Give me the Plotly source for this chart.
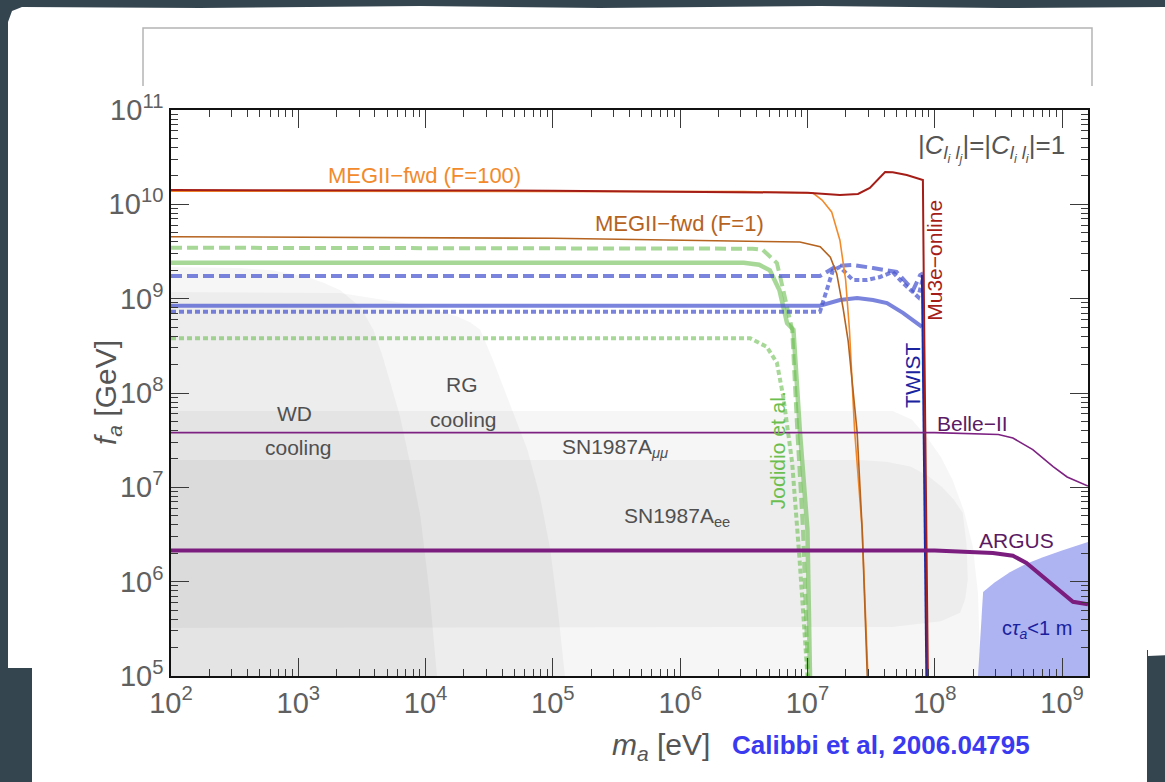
import plotly.graph_objects as go

# ---------------- data (log10 of m_a [eV] and log10 of f_a [GeV]) ----------------
x_range_log = [2, 9.204]
y_range_log = [5, 11]

x_tick_exponents = [2, 3, 4, 5, 6, 7, 8, 9]
y_tick_exponents = [5, 6, 7, 8, 9, 10, 11]
x_tick_labels = ["10<sup>%d</sup>" % e for e in x_tick_exponents]
y_tick_labels = ["10<sup>%d</sup>" % e for e in y_tick_exponents]

# shaded astrophysical regions
wd_logm = [2.0, 2.0, 2.54, 2.8, 3.07, 3.2, 3.33, 3.49, 3.59, 3.66, 3.73, 3.80, 3.88, 3.96, 4.03, 4.09, 2.0]
wd_logf = [5.0, 9.336, 9.325, 9.30, 9.23, 9.17, 9.09, 8.91, 8.67, 8.40, 8.08, 7.75, 7.25, 6.69, 5.9, 5.0, 5.0]
rg_logm = [2.0, 2.0, 3.33, 3.85, 4.05, 4.25, 4.35, 4.43, 4.53, 4.66, 4.80, 4.90, 4.98, 5.04, 5.095, 2.0]
rg_logf = [5.0, 9.07, 9.06, 8.95, 8.89, 8.81, 8.75, 8.67, 8.35, 7.90, 7.40, 6.90, 6.34, 5.70, 5.0, 5.0]
snmm_logm = [2.0, 2.0, 7.67, 7.82, 7.94, 8.05, 8.14, 8.23, 8.30, 8.34, 8.36, 2.0]
snmm_logf = [5.0, 7.81, 7.81, 7.72, 7.53, 7.32, 7.08, 6.75, 6.37, 5.88, 5.0, 5.0]
snee_logm = [2.0, 2.0, 7.41, 7.62, 7.81, 7.95, 8.06, 8.15, 8.22, 8.25, 8.26, 8.24, 8.20, 8.05, 7.67, 2.0]
snee_logf = [5.51, 7.29, 7.29, 7.27, 7.22, 7.12, 7.00, 6.87, 6.73, 6.40, 6.02, 5.82, 5.67, 5.58, 5.52, 5.51]
ctau_logm = [8.34, 8.38, 8.47, 8.59, 8.72, 8.85, 9.0, 9.204, 9.204, 8.34]
ctau_logf = [5.0, 5.89, 5.99, 6.10, 6.19, 6.26, 6.33, 6.42, 5.0, 5.0]

# experimental curves
meg100_logm = [2.0, 6.5, 7.043, 7.115, 7.19, 7.255, 7.30, 7.33, 7.37, 7.43, 7.475]
meg100_logf = [10.14, 10.135, 10.12, 10.046, 9.92, 9.62, 9.198, 8.668, 7.61, 6.55, 5.0]
meg1_logm = [2.0, 5.0, 6.94, 7.10, 7.18, 7.23, 7.28, 7.32, 7.39, 7.43, 7.47]
meg1_logf = [9.657, 9.64, 9.60, 9.55, 9.44, 9.265, 8.90, 8.55, 7.59, 6.55, 5.0]
mu3e_logm = [2.0, 5.0, 7.0, 7.255, 7.397, 7.49, 7.61, 7.67, 7.78, 7.907, 7.915, 7.946]
mu3e_logf = [10.152, 10.145, 10.123, 10.099, 10.11, 10.173, 10.343, 10.34, 10.31, 10.258, 9.0, 5.0]
twist_logm = [7.90, 7.935]
twist_logf = [9.25, 5.0]

jod_dash_logm = [2.0, 6.47, 6.57, 6.65, 6.76, 6.81, 6.865, 6.88, 6.92, 6.965, 7.005]
jod_dash_logf = [9.54, 9.54, 9.53, 9.516, 9.378, 9.09, 8.74, 8.67, 7.61, 6.55, 5.0]
jod_solid_logm = [2.0, 6.50, 6.62, 6.705, 6.78, 6.84, 6.89, 6.94, 7.0, 7.02]
jod_solid_logf = [9.38, 9.38, 9.36, 9.30, 9.09, 8.74, 8.67, 7.61, 6.55, 5.0]
jod_dot_logm = [2.0, 6.55, 6.68, 6.76, 6.81, 6.88, 6.94, 7.0]
jod_dot_logf = [8.58, 8.58, 8.49, 8.32, 7.96, 7.26, 6.20, 5.0]

blue_dash_logm = [2.0, 7.098, 7.23, 7.357, 7.515, 7.625, 7.70, 7.78, 7.83, 7.885, 7.91]
blue_dash_logf = [9.24, 9.24, 9.346, 9.357, 9.325, 9.30, 9.283, 9.166, 9.09, 9.25, 9.27]
blue_dot_logm = [2.0, 7.098, 7.2, 7.255, 7.357, 7.47, 7.57, 7.67, 7.75, 7.83, 7.87, 7.91]
blue_dot_logf = [8.86, 8.86, 9.30, 9.336, 9.198, 9.198, 9.23, 9.283, 9.166, 9.06, 9.018, 9.23]
blue_solid_logm = [2.0, 7.098, 7.255, 7.39, 7.515, 7.625, 7.75, 7.86, 7.90]
blue_solid_logf = [8.925, 8.925, 8.986, 9.007, 8.986, 8.954, 8.85, 8.74, 8.70]

belle_logm = [2.0, 8.0, 8.5, 8.614, 8.77, 8.93, 9.04, 9.204]
belle_logf = [7.58, 7.58, 7.56, 7.523, 7.40, 7.22, 7.11, 7.014]
argus_logm = [2.0, 8.0, 8.457, 8.614, 8.72, 8.85, 8.98, 9.086, 9.204]
argus_logf = [6.33, 6.33, 6.304, 6.275, 6.198, 6.05, 5.91, 5.787, 5.76]


def pw(v):
    return [10 ** a for a in v]


FONT = "Liberation Sans, Arial, sans-serif"
fig = go.Figure()


def region(lm, lf, color):
    fig.add_trace(go.Scatter(x=pw(lm), y=pw(lf), mode="lines", fill="toself",
                             fillcolor=color, line=dict(width=0),
                             hoverinfo="skip", showlegend=False))


def curve(lm, lf, color, width, dash="solid"):
    fig.add_trace(go.Scatter(x=pw(lm), y=pw(lf), mode="lines",
                             line=dict(color=color, width=width, dash=dash),
                             hoverinfo="skip", showlegend=False))


region(wd_logm, wd_logf, "rgba(0,0,0,0.036)")
region(rg_logm, rg_logf, "rgba(0,0,0,0.036)")
region(snmm_logm, snmm_logf, "rgba(0,0,0,0.034)")
region(snee_logm, snee_logf, "rgba(0,0,0,0.034)")
region(ctau_logm, ctau_logf, "#aeb3f2")

GREEN = "rgba(108,190,82,0.6)"
BLUE = "rgba(72,84,206,0.72)"
curve(jod_dash_logm, jod_dash_logf, GREEN, 4, "11px,5px")
curve(jod_solid_logm, jod_solid_logf, GREEN, 4.5)
curve(jod_dot_logm, jod_dot_logf, GREEN, 4, "5px,3px")
curve(blue_dash_logm, blue_dash_logf, BLUE, 4, "11px,5px")
curve(blue_dot_logm, blue_dot_logf, BLUE, 4, "5px,3px")
curve(blue_solid_logm, blue_solid_logf, BLUE, 4)
curve(meg100_logm, meg100_logf, "#f28a2c", 1.6)
curve(meg1_logm, meg1_logf, "#b5631f", 1.6)
curve(twist_logm, twist_logf, "#1c2aa8", 2.2)
curve(mu3e_logm, mu3e_logf, "#a51d17", 2.0)
curve(belle_logm, belle_logf, "#7d2282", 1.6)
curve(argus_logm, argus_logf, "#7a1d7f", 4)

# ---------------- page decoration (pixel -> paper) ----------------
L, R, T, B = 171, 1088, 110, 676


def px(x):
    return (x - L) / (R - L)


def py(y):
    return (B - y) / (B - T)


def path(points, close=True):
    s = "M " + " L ".join("%.5f,%.5f" % (px(a), py(b)) for a, b in points)
    return s + (" Z" if close else "")


shapes = []
card = [(8, 22), (12, 11), (22, 7), (200, 8), (420, 6), (600, 8), (820, 6), (1000, 8), (1170, 7),
        (1170, 655), (1148, 656), (1148, 650), (32, 650), (32, 668), (8, 668)]
shapes.append(dict(type="path", xref="paper", yref="paper", path=path(card),
                   fillcolor="white", line=dict(width=0), layer="below"))
lower = [(32, 650), (1147, 650), (1147, 790), (32, 790)]
shapes.append(dict(type="path", xref="paper", yref="paper", path=path(lower),
                   fillcolor="white", line=dict(width=0), layer="below"))
box = [(143, 86), (143, 28), (1092, 28), (1092, 86)]
shapes.append(dict(type="path", xref="paper", yref="paper", path=path(box, close=False),
                   line=dict(color="#b4b4b4", width=1.5), layer="below"))

# ---------------- annotations ----------------
ann = []


def note(text, lx, ly, color, size=21, angle=0, xanchor="center"):
    ann.append(dict(text=text, x=lx, y=ly, xref="x", yref="y",
                    showarrow=False, textangle=angle, xanchor=xanchor, yanchor="middle",
                    font=dict(family=FONT, size=size, color=color)))


note("MEGII−fwd (F=100)", 3.995, 10.311, "#f28a2c", 22)
note("MEGII−fwd (F=1)", 5.998, 9.802, "#b5631f", 22)
note("|<i>C</i><sub><i>l<sub>i</sub> l<sub>j</sub></i></sub>|=|<i>C</i><sub><i>l<sub>i</sub> l<sub>i</sub></i></sub>|=1",
     9.04, 10.597, "#555555", 26, xanchor="right")
note("Mu3e−online", 8.0, 9.41, "#a51d17", 21, angle=-90)
note("TWIST", 7.82, 8.19, "#1a249e", 21, angle=-90)
note("Jodidio et al.", 6.77, 7.396, "#6cbf4f", 21, angle=-90)
note("Belle−II", 8.30, 7.68, "#5b1a63", 21)
note("ARGUS", 8.646, 6.44, "#5b1a63", 21)
note("c<i>τ<sub>a</sub></i><1 m", 8.803, 5.488, "#1a1f9e", 20)
note("WD", 2.974, 7.788, "#505050", 21)
note("cooling", 2.998, 7.427, "#505050", 21)
note("RG", 4.286, 8.085, "#505050", 21)
note("cooling", 4.294, 7.714, "#505050", 21)
note("SN1987A<sub><i>μμ</i></sub>", 5.49, 7.417, "#505050", 21)
note("SN1987A<sub>ee</sub>", 5.975, 6.686, "#505050", 21)

# axis titles and citation (paper coords)
ann.append(dict(text="<i>f</i><sub><i>a</i></sub> [GeV]", x=px(107), y=py(393), xref="paper", yref="paper",
                showarrow=False, textangle=-90, xanchor="center", yanchor="middle",
                font=dict(family=FONT, size=30, color="#555555")))
ann.append(dict(text="<i>m</i><sub><i>a</i></sub> [eV]", x=px(661), y=py(746), xref="paper", yref="paper",
                showarrow=False, xanchor="center", yanchor="middle",
                font=dict(family=FONT, size=30, color="#555555")))
ann.append(dict(text="<b>Calibbi et al, 2006.04795</b>", x=px(881), y=py(745), xref="paper", yref="paper",
                showarrow=False, xanchor="center", yanchor="middle",
                font=dict(family=FONT, size=26, color="#3a3af0")))

# ---------------- axes ----------------
x_minor = [m * 10 ** e for e in range(2, 10) for m in range(2, 10) if m * 10 ** e <= 10 ** 9.204]
y_minor = [m * 10 ** e for e in range(5, 11) for m in range(2, 10)]

axis_common = dict(type="log", showline=True, linecolor="#111111", linewidth=1.5, mirror="allticks",
                   ticks="inside", ticklen=18, tickwidth=1.3, tickcolor="#3a3a3a",
                   showgrid=False, zeroline=False, tickmode="array",
                   tickfont=dict(family=FONT, size=29, color="#606060"))

fig.update_layout(
    width=1165, height=782, autosize=False,
    margin=dict(l=L, r=1165 - R, t=T, b=782 - B, pad=0),
    paper_bgcolor="#35454f", plot_bgcolor="white",
    shapes=shapes, annotations=ann, showlegend=False,
    xaxis=dict(axis_common, range=x_range_log, tickvals=pw(x_tick_exponents), ticktext=x_tick_labels,
               minor=dict(ticks="inside", ticklen=7, tickwidth=1.2, tickcolor="#3a3a3a",
                          tickmode="array", tickvals=x_minor, showgrid=False)),
    yaxis=dict(axis_common, range=y_range_log, tickvals=pw(y_tick_exponents), ticktext=y_tick_labels,
               minor=dict(ticks="inside", ticklen=7, tickwidth=1.2, tickcolor="#3a3a3a",
                          tickmode="array", tickvals=y_minor, showgrid=False)),
)

fig.write_html("out.html")
